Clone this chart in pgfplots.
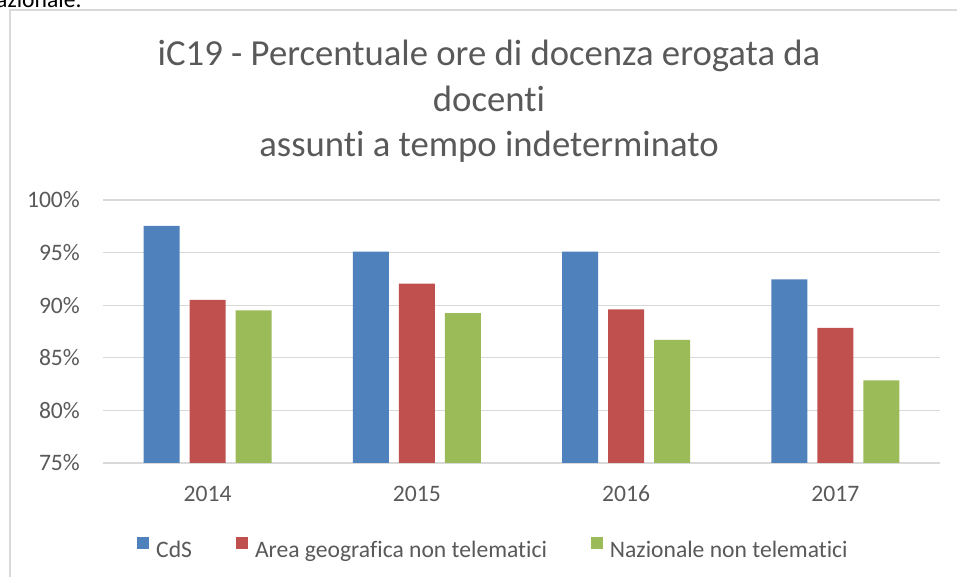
\documentclass[border=0pt]{standalone}
\usepackage{fontspec}
\setmainfont{Carlito}[RawFeature={-liga;-clig;-calt;-dlig}]
\usepackage{pgfplots}
\pgfplotsset{compat=1.18}

\definecolor{cds}{HTML}{4F81BD}
\definecolor{area}{HTML}{C0504D}
\definecolor{naz}{HTML}{9BBB59}
\definecolor{txtgray}{HTML}{595959}
\definecolor{gridgray}{HTML}{D9D9D9}

\begin{document}
\begin{tikzpicture}
\useasboundingbox (0pt,0pt) rectangle (957pt,577pt);
% text cut off at the top of the page
\begin{scope}
\clip (0pt,0pt) rectangle (957pt,577pt);
\node[anchor=base west, inner sep=0pt, font=\fontsize{23.6}{28}\selectfont] at (-4pt,569pt) {azionale.};
\end{scope}
\draw[gridgray, line width=1.5pt] (10pt,0pt) -- (10pt,567pt) -- (957pt,567pt);

% title
\begin{scope}[every node/.style={anchor=base, inner sep=0pt, text=txtgray, font=\fontsize{36.7}{45}\selectfont}]
\node at (489pt,511pt) {iC19 - Percentuale ore di docenza erogata da};
\node at (489pt,465pt) {docenti};
\node at (489pt,420pt) {assunti a tempo indeterminato};
\end{scope}

\begin{axis}[
    at={(103pt,114pt)}, anchor=south west,
    scale only axis, width=837pt, height=263pt,
    ybar=10pt, bar width=36pt,
    xmin=-0.5, xmax=3.5, ymin=75, ymax=100,
    xtick={0,1,2,3}, xticklabels={2014,2015,2016,2017},
    ytick={75,80,85,90,95,100},
    yticklabels={75\%,80\%,85\%,90\%,95\%,100\%},
    major tick length=0pt,
    axis line style={draw=none},
    ymajorgrids, major grid style={draw=gridgray, line width=1.3pt},
    tick label style={text=txtgray, font=\fontsize{23.6}{28}\selectfont, inner sep=0pt},
    yticklabel style={anchor=east, xshift=-23pt},
    xticklabel style={anchor=base, yshift=-39pt},
    legend columns=3,
    legend style={at={(0.0406,-0.323)}, anchor=west, draw=none, inner sep=0pt,
        text=txtgray, font=\fontsize{23.6}{28}\selectfont,
        nodes={inner sep=0pt},
        /tikz/every odd column/.append style={column sep=7pt},
        /tikz/every even column/.append style={column sep=44pt}},
    legend image code/.code={\fill[#1] (0pt,1pt) rectangle (12pt,13pt);},
]
\addplot[fill=cds, draw=none] coordinates {(0,97.55) (1,95.1) (2,95.1) (3,92.45)};
\addlegendentry{CdS}
\addplot[fill=area, draw=none] coordinates {(0,90.5) (1,92.05) (2,89.6) (3,87.85)};
\addlegendentry{Area geografica non telematici}
\addplot[fill=naz, draw=none] coordinates {(0,89.5) (1,89.25) (2,86.7) (3,82.85)};
\addlegendentry{Nazionale non telematici}
\end{axis}
\end{tikzpicture}
\end{document}
